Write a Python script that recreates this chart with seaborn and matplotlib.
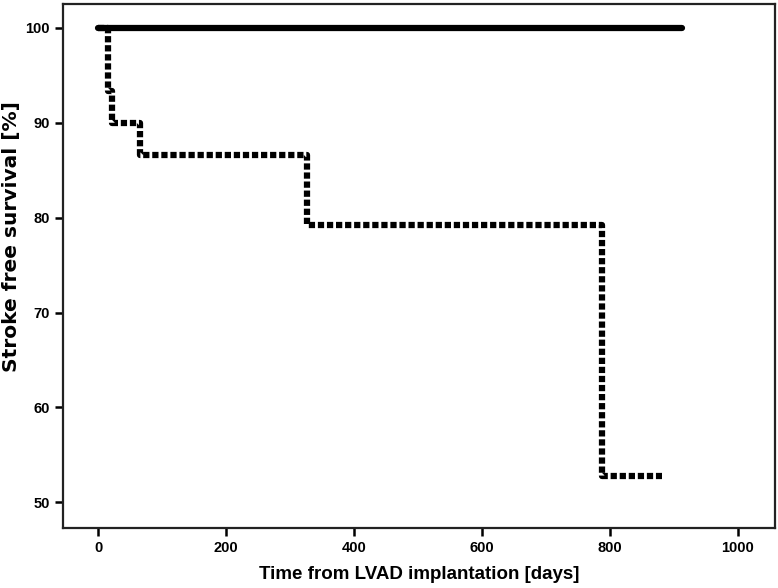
import matplotlib
matplotlib.use("Agg")
import matplotlib.pyplot as plt
import seaborn as sns
import pandas as pd

# Kaplan-Meier style curves
days_no_stroke = [0, 912]
surv_no_stroke = [100, 100]

days_stroke = [0, 15, 21, 66, 326, 788, 881]
surv_stroke = [100, 93.3, 90.0, 86.6, 79.2, 52.8, 52.8]

x_ticks = [0, 200, 400, 600, 800, 1000]
y_ticks = [50, 60, 70, 80, 90, 100]

sns.set_theme(style="white")
plt.rcParams["font.family"] = ["Liberation Sans", "DejaVu Sans"]

fig = plt.figure(figsize=(7.78, 5.88), dpi=100)
ax = fig.add_axes([0.081, 0.102, 0.915, 0.891])

df_a = pd.DataFrame({"day": days_no_stroke, "surv": surv_no_stroke})
df_b = pd.DataFrame({"day": days_stroke, "surv": surv_stroke})

sns.lineplot(data=df_b, x="day", y="surv", ax=ax, estimator=None,
             drawstyle="steps-post", color="black", linewidth=4.5,
             linestyle=(0, (1.0, 0.45)), dash_capstyle="butt", zorder=2)
sns.lineplot(data=df_a, x="day", y="surv", ax=ax, estimator=None,
             drawstyle="steps-post", color="black", linewidth=4.5,
             solid_capstyle="round", zorder=3)

ax.set_xlim(-55, 1058)
ax.set_ylim(47.3, 102.5)
ax.set_xticks(x_ticks)
ax.set_yticks(y_ticks)
ax.tick_params(axis="both", direction="out", length=6, width=1.8,
               color="black", labelcolor="black", labelsize=10.5,
               bottom=True, left=True)
for lbl in ax.get_xticklabels() + ax.get_yticklabels():
    lbl.set_fontweight("bold")

for sp in ax.spines.values():
    sp.set_color("#222222")
    sp.set_linewidth(1.6)

ax.set_xlabel("Time from LVAD implantation [days]", fontsize=13.5,
              fontweight="bold", color="black", labelpad=8)
ax.set_ylabel("Stroke free survival [%]", fontsize=14.5,
              fontweight="bold", color="black",
              family=["DejaVu Sans"])
ax.yaxis.set_label_coords(-0.059, 0.557)

fig.savefig("out.png", dpi=100)
